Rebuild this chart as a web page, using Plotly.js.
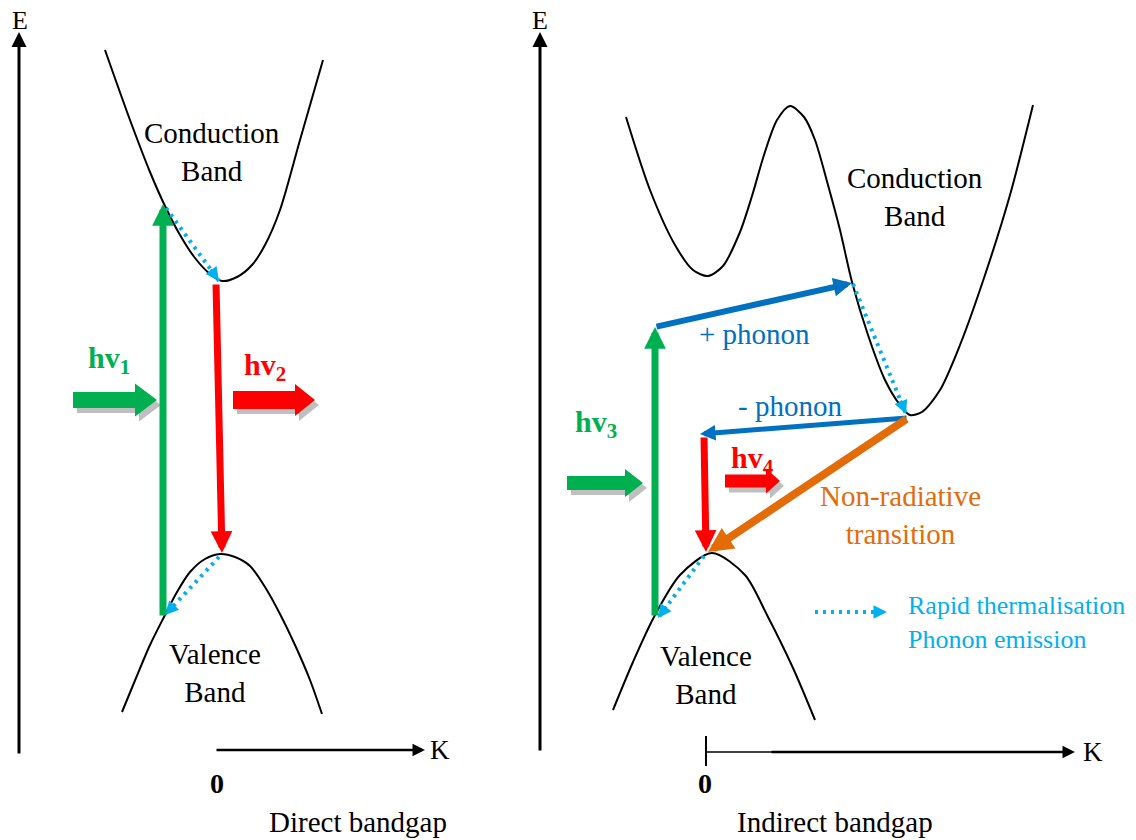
<!DOCTYPE html>
<html>
<head>
<meta charset="utf-8">
<script src="https://cdn.plot.ly/plotly-3.0.1.min.js"></script>
<style>html,body{margin:0;padding:0;background:#fff;}#plot{width:1136px;height:840px;}</style>
</head>
<body>
<div id="plot"></div>
<script>
// ---- Band curves ----
const leftCBx = [105, 130, 150, 165, 180, 195, 210, 222, 237, 252, 265, 280, 300, 323];
const leftCBy = [50, 120, 172, 206, 235, 258, 274, 281, 277, 265, 245, 210, 140, 60];
const leftVBx = [122, 136, 150, 164, 177, 190, 205, 220, 235, 250, 265, 280, 295, 310, 322];
const leftVBy = [712, 678, 645, 617, 592, 572, 559, 554, 557, 566, 587, 614, 645, 680, 714];
const rightCBx = [626, 650, 675, 693, 708, 723, 740, 752, 764, 777, 790, 804, 815, 828, 840, 852, 868, 885, 900, 910, 922, 940, 960, 985, 1010, 1033];
const rightCBy = [117, 190, 245, 270, 276, 266, 232, 196, 155, 120, 106, 117, 140, 185, 230, 282, 335, 380, 405, 415, 412, 390, 345, 275, 195, 105];
const rightVBx = [613, 633, 654, 680, 712, 745, 767, 793, 815];
const rightVBy = [710, 662, 617, 575, 553, 575, 615, 668, 720];

// ---- Transition arrows: tail and head points ----
const transTail = [[163, 617], [216, 283], [655, 617], [655, 327], [908, 418], [704, 436], [908, 418]];
const transHead = [[163, 204], [222, 553], [655, 327], [852, 283], [700, 434], [706, 552], [708, 552]];
const transColor = ['#00B050', '#FF0000', '#00B050', '#0070C0', '#0070C0', '#FF0000', '#E36C09'];
const transWidth = [7, 7, 7, 6, 5, 7, 8];

// ---- Thermalisation (dotted) arrows ----
const dotTail = [[166, 208], [219, 557], [853, 284], [704, 556], [815, 612]];
const dotHead = [[219, 281], [165, 615], [906, 414], [658, 618], [887, 612]];

// ---- Photon block arrows ----
const photonArrows = [
  {x0: 73, x1: 157, y: 400, shaft: 16, head: 33, headLen: 22, color: '#00B050'},
  {x0: 233, x1: 315, y: 400, shaft: 18, head: 32, headLen: 20, color: '#FF0000'},
  {x0: 567, x1: 643, y: 483, shaft: 14, head: 28, headLen: 18, color: '#00B050'},
  {x0: 725, x1: 780, y: 481, shaft: 13, head: 25, headLen: 14, color: '#FF0000'}
];

// ---- Labels ----
const labelText = ['E', 'E', 'K', 'K', '<b>0</b>', '<b>0</b>', 'Direct bandgap', 'Indirect bandgap',
  'Conduction<br>Band', 'Conduction<br>Band', 'Valence<br>Band', 'Valence<br>Band',
  '<b>hv<sub>1</sub></b>', '<b>hv<sub>2</sub></b>', '<b>hv<sub>3</sub></b>', '<b>hv<sub>4</sub></b>',
  '+ phonon', '- phonon', 'Non-radiative<br>transition'];
const labelX = [20, 540, 440, 1093, 217, 705, 358, 835, 212, 915, 215, 706, 109, 265, 596, 752, 754, 790, 900];
const labelY = [20, 20, 750, 752, 783, 783, 822, 822, 152, 197, 673, 675, 360, 367, 424, 460, 334, 406, 515];
const labelColor = ['#000', '#000', '#000', '#000', '#000', '#000', '#000', '#000', '#000', '#000', '#000', '#000',
  '#00B050', '#FF0000', '#00B050', '#FF0000', '#0070C0', '#0070C0', '#E36C09'];
const labelSize = [26, 26, 27, 27, 28, 28, 29, 29, 29, 29, 29, 29, 30, 30, 30, 30, 29, 29, 29];
const legendText = 'Rapid thermalisation<br>Phonon emission';

const FONT = '"Liberation Serif", "Times New Roman", Times, serif';
const CYAN = '#00B0F0';

const traces = [];
function band(xs, ys) {
  traces.push({x: xs, y: ys, mode: 'lines', type: 'scatter', hoverinfo: 'skip',
    line: {color: '#000', width: 2, shape: 'spline', smoothing: 0.8}});
}
band(leftCBx, leftCBy); band(leftVBx, leftVBy); band(rightCBx, rightCBy); band(rightVBx, rightVBy);

const annotations = [];
const shapes = [];

dotTail.forEach((t, i) => {
  const h = dotHead[i];
  traces.push({x: [t[0], h[0]], y: [t[1], h[1]], mode: 'lines', type: 'scatter', hoverinfo: 'skip',
    line: {color: CYAN, width: 4, dash: '3px,5px'}});
  const dx = h[0] - t[0], dy = h[1] - t[1], L = Math.hypot(dx, dy);
  annotations.push({x: h[0], y: h[1], ax: h[0] - dx / L * 16, ay: h[1] - dy / L * 16,
    xref: 'x', yref: 'y', axref: 'x', ayref: 'y', text: '', showarrow: true,
    arrowhead: 2, arrowsize: 0.9, arrowwidth: 3, arrowcolor: CYAN, standoff: 0});
});

// axes arrows
function axisArrow(tx, ty, hx, hy, w) {
  annotations.push({x: hx, y: hy, ax: tx, ay: ty, xref: 'x', yref: 'y', axref: 'x', ayref: 'y',
    text: '', showarrow: true, arrowhead: 2, arrowsize: 1, arrowwidth: w, arrowcolor: '#000', standoff: 0});
}
axisArrow(19, 755, 19, 32, 3);
axisArrow(540, 752, 540, 32, 3);
axisArrow(215, 750, 425, 750, 2.5);
axisArrow(770, 752, 1075, 752, 2.5);
shapes.push({type: 'line', xref: 'x', yref: 'y', x0: 706, x1: 772, y0: 752, y1: 752, line: {color: '#000', width: 1.5}});
shapes.push({type: 'line', xref: 'x', yref: 'y', x0: 706, x1: 706, y0: 736, y1: 766, line: {color: '#000', width: 2}});

// transitions
transTail.forEach((t, i) => {
  const h = transHead[i];
  annotations.push({x: h[0], y: h[1], ax: t[0], ay: t[1], xref: 'x', yref: 'y', axref: 'x', ayref: 'y',
    text: '', showarrow: true, arrowhead: 2, arrowsize: 0.62, arrowwidth: transWidth[i],
    arrowcolor: transColor[i], standoff: 0});
});

// photon block arrows with shadow
function blockPath(a, dx, dy) {
  const hs = a.shaft / 2, hh = a.head / 2, xb = a.x1 - a.headLen;
  const p = [[a.x0, a.y - hs], [xb, a.y - hs], [xb, a.y - hh], [a.x1, a.y], [xb, a.y + hh], [xb, a.y + hs], [a.x0, a.y + hs]];
  return 'M' + p.map(q => (q[0] + dx) + ',' + (q[1] + dy)).join(' L') + ' Z';
}
photonArrows.forEach(a => {
  shapes.push({type: 'path', xref: 'x', yref: 'y', path: blockPath(a, 4, 5), fillcolor: '#BFBFBF', line: {width: 0}, layer: 'above'});
  shapes.push({type: 'path', xref: 'x', yref: 'y', path: blockPath(a, 0, 0), fillcolor: a.color, line: {width: 0}, layer: 'above'});
});

// labels
labelText.forEach((t, i) => {
  annotations.push({x: labelX[i], y: labelY[i], xref: 'x', yref: 'y', text: t, showarrow: false,
    xanchor: 'center', yanchor: 'middle', align: 'center',
    font: {family: FONT, size: labelSize[i], color: labelColor[i]}});
});
annotations.push({x: 906, y: 622, xref: 'x', yref: 'y', text: legendText, showarrow: false,
  xanchor: 'left', yanchor: 'middle', align: 'left', font: {family: FONT, size: 26, color: CYAN}});

const layout = {
  width: 1136, height: 840,
  margin: {l: 0, r: 0, t: 0, b: 0},
  paper_bgcolor: '#fff', plot_bgcolor: '#fff',
  font: {family: FONT, size: 26, color: '#000'},
  showlegend: false,
  xaxis: {range: [0, 1136], visible: false, fixedrange: true},
  yaxis: {range: [840, 0], visible: false, fixedrange: true},
  annotations: annotations,
  shapes: shapes
};
Plotly.newPlot('plot', traces, layout, {staticPlot: true, displayModeBar: false});
</script>
</body>
</html>
